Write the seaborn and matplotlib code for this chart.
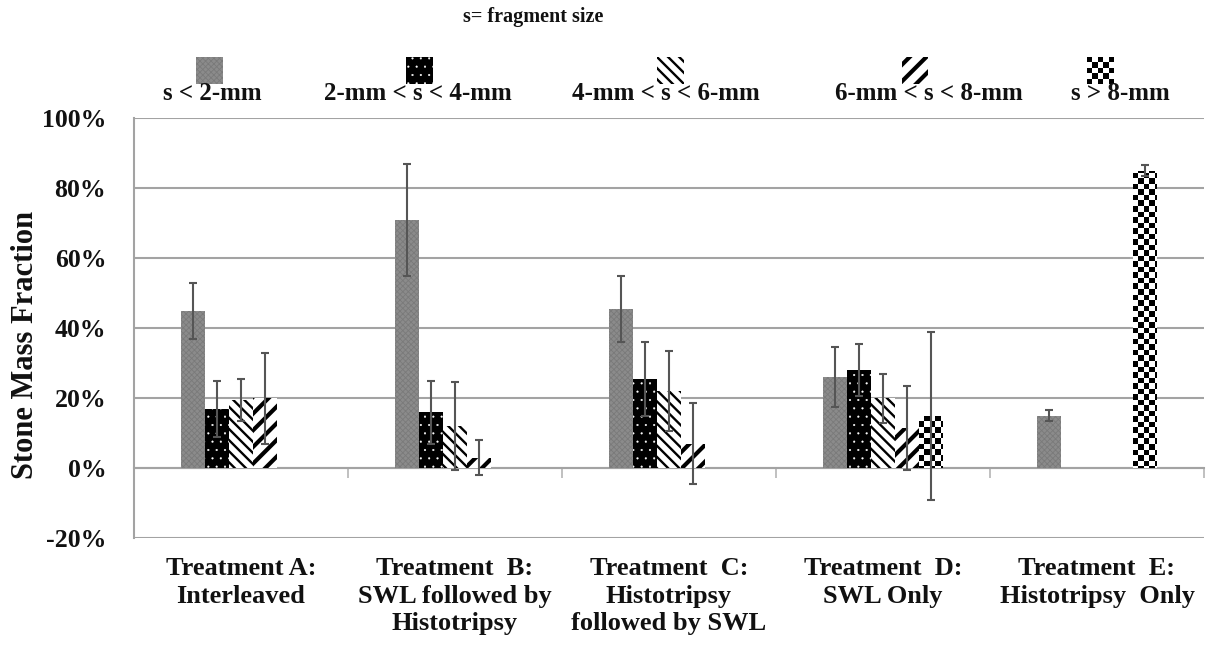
import numpy as np
import pandas as pd
import matplotlib
matplotlib.use("Agg")
import matplotlib.pyplot as plt
from matplotlib.patches import Rectangle
from matplotlib.ticker import PercentFormatter
import seaborn as sns

nan = np.nan

treatments = [
    "Treatment A:\nInterleaved",
    "Treatment  B:\nSWL followed by\nHistotripsy",
    "Treatment  C:\nHistotripsy\nfollowed by SWL",
    "Treatment  D:\nSWL Only",
    "Treatment  E:\nHistotripsy  Only",
]
sizes = ["s < 2-mm", "2-mm < s < 4-mm", "4-mm < s < 6-mm", "6-mm < s < 8-mm", "s > 8-mm"]

# mean stone mass fraction (%) per treatment, one list per fragment size
frac_lt2 = [45, 71, 45.5, 26, 15]
frac_2to4 = [17, 16, 25.5, 28, nan]
frac_4to6 = [19.5, 12, 22, 20, nan]
frac_6to8 = [20, 3, 7, 11.5, nan]
frac_gt8 = [nan, nan, nan, 15, 85]

# error bar half-lengths (%)
err_lt2 = [8, 16, 9.5, 8.5, 1.5]
err_2to4 = [8, 9, 10.5, 7.5, nan]
err_4to6 = [6, 12.5, 11.5, 7, nan]
err_6to8 = [13, 5, 11.5, 12, nan]
err_gt8 = [nan, nan, nan, 24, 1.5]

fractions = [frac_lt2, frac_2to4, frac_4to6, frac_6to8, frac_gt8]
errors = [err_lt2, err_2to4, err_4to6, err_6to8, err_gt8]

rows = []
for s, vals in zip(sizes, fractions):
    for t, v in zip(treatments, vals):
        rows.append({"treatment": t, "size": s, "fraction": v})
df = pd.DataFrame(rows)

sns.set_theme(style="white")
plt.rcParams["font.family"] = ["Liberation Serif", "DejaVu Serif"]
plt.rcParams["font.weight"] = "bold"
plt.rcParams["axes.unicode_minus"] = False
plt.rcParams["hatch.linewidth"] = 1.6

GRID = "#a3a3a3"
ERR = "#555555"

# per-size fill styles: facecolor, hatch, hatch colour, hatch width
styles = [
    dict(face="#8b8b8b", hatch="xxxxxx", hcolor="#7a7a7a", hlw=0.6),
    dict(face="#000000", hatch="..", hcolor="#ffffff", hlw=0.3),
    dict(face="#ffffff", hatch="\\\\\\", hcolor="#000000", hlw=1.7),
    dict(face="#ffffff", hatch="//", hcolor="#000000", hlw=3.0),
    dict(face="#ffffff", hatch=None, hcolor="#000000", hlw=1.0),
]
key_colors = ["#e41a1c", "#377eb8", "#4daf4a", "#984ea3", "#ff7f00"]

W, H = 1206, 649
fig = plt.figure(figsize=(W / 100, H / 100), dpi=100)
ax = fig.add_axes([134 / W, 1 - 538 / H, 1070 / W, 420 / H])

sns.barplot(data=df, x="treatment", y="fraction", hue="size",
            order=treatments, hue_order=sizes, palette=key_colors,
            saturation=1, width=0.56, dodge=True, errorbar=None,
            legend=False, ax=ax, linewidth=0, zorder=2)


def apply_style(patch, st):
    patch.set_facecolor(st["face"])
    patch.set_edgecolor(st["hcolor"])
    patch.set_linewidth(0)
    if st["hatch"]:
        patch.set_hatch(st["hatch"])
        if hasattr(patch, "set_hatch_linewidth"):
            patch.set_hatch_linewidth(st["hlw"])


def checker(nx, ny):
    return (np.indices((ny, nx)).sum(axis=0) % 2).astype(float)


board = checker(195, 76)


def nearest_level(color):
    rgb = np.array(matplotlib.colors.to_rgb(color))
    dists = [np.abs(rgb - np.array(matplotlib.colors.to_rgb(c))).sum()
             for c in key_colors]
    return int(np.argmin(dists))


bars = []
for cont in ax.containers:
    for bar in cont:
        bars.append((bar, nearest_level(bar.get_facecolor())))

for bar, level in bars:
    st = styles[level]
    apply_style(bar, st)
    h = bar.get_height()
    if not np.isfinite(h):
        continue
    xc = bar.get_x() + bar.get_width() / 2
    t_idx = int(round(xc))
    if level == 4:
        im = ax.imshow(board, cmap="gray", vmin=0, vmax=1, extent=(0, 1, 0, 1),
                       transform=ax.transAxes, aspect="auto",
                       interpolation="nearest", zorder=2.1)
        im.set_clip_path(bar)
    ax.errorbar(xc, h, yerr=errors[level][t_idx], fmt="none", ecolor=ERR,
                elinewidth=1.5, capsize=3, capthick=1.5, zorder=3)

ax.set_xlim(-0.5, 4.5)
ax.set_ylim(-20, 100)
ax.set_yticks(np.arange(-20, 101, 20))
ax.yaxis.set_major_formatter(PercentFormatter(decimals=0))
ax.yaxis.grid(True, color=GRID, linewidth=1.5)
ax.set_axisbelow(True)
for side in ["top", "right", "bottom"]:
    ax.spines[side].set_visible(False)
ax.spines["left"].set_color(GRID)
ax.spines["left"].set_linewidth(1.5)
ax.tick_params(axis="y", direction="out", length=8, width=1.5, color=GRID,
               pad=12, labelsize=18.5, labelcolor="#111111")
ax.tick_params(axis="x", length=0, pad=14, labelsize=19, labelcolor="#111111")
ax.set_xticks(range(len(treatments)))
ax.set_xticklabels(treatments, fontweight="bold", linespacing=1.25)
for lab in ax.get_yticklabels():
    lab.set_fontweight("bold")
ax.set_xlabel("")
ax.set_ylabel("Stone Mass Fraction", fontsize=22, fontweight="bold",
              color="#111111")
ax.yaxis.set_label_coords(-0.088, 0.46)

# category axis crossing at zero with boundary ticks
zero_ax = ax.secondary_xaxis(20 / 120)
zero_ax.set_xticks(np.arange(-0.5, 5, 1))
zero_ax.set_xticklabels([])
zero_ax.tick_params(direction="out", length=7, width=1.2, color="#b5b5b5")
zero_ax.spines["bottom"].set_color(GRID)
zero_ax.spines["bottom"].set_linewidth(1.5)

# legend: swatch above each label
fig.text(533 / W, 1 - 17 / H, "s= fragment size", ha="center", va="center",
         fontsize=14.5, fontweight="bold", color="#111111")
swatch_x = [209, 419, 670, 915, 1100]
label_x = [212, 418, 666, 929, 1120]
for i, (sx, lx) in enumerate(zip(swatch_x, label_x)):
    sax = fig.add_axes([(sx - 13.5) / W, 1 - 84 / H, 27 / W, 27 / H])
    sax.set_axis_off()
    rect = Rectangle((0, 0), 1, 1, transform=sax.transAxes, zorder=1)
    sax.add_patch(rect)
    apply_style(rect, styles[i])
    if i == 4:
        sax.imshow(checker(5, 5), cmap="gray", vmin=0, vmax=1,
                   extent=(0, 1, 0, 1), transform=sax.transAxes,
                   aspect="auto", interpolation="nearest", zorder=2)
        sax.set_xlim(0, 1)
        sax.set_ylim(0, 1)
    fig.text(lx / W, 1 - 94 / H, sizes[i], ha="center", va="center",
             fontsize=18, fontweight="bold", color="#111111")

fig.savefig("out.png", dpi=100, facecolor="white")
